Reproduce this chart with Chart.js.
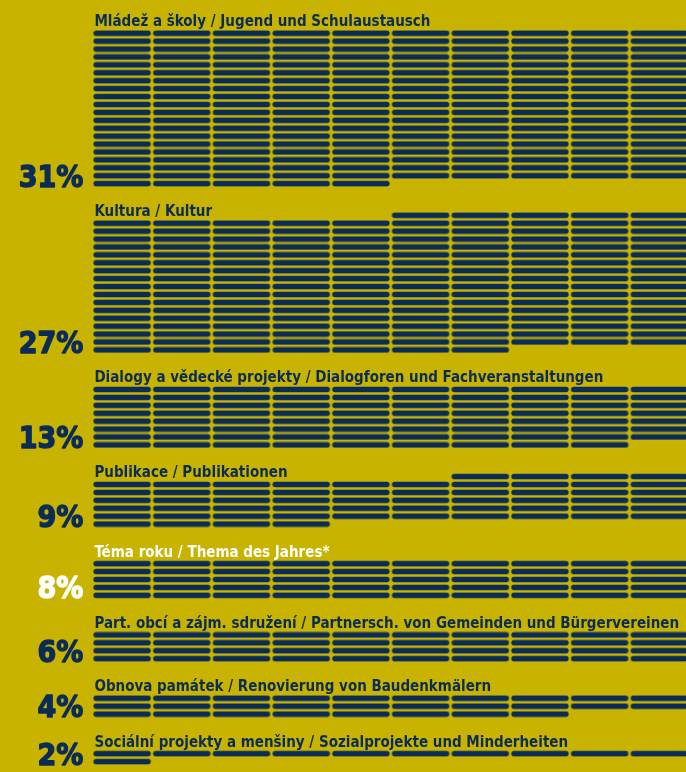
<!DOCTYPE html>
<html>
<head>
<meta charset="utf-8">
<title>Projekty podle oblastí / Projekte nach Bereichen</title>
<script src="https://cdn.jsdelivr.net/npm/chart.js@4.4.0/dist/chart.umd.min.js"></script>
<style>
  html, body { margin: 0; padding: 0; background: #c8b400; }
  #wrap { position: relative; width: 686px; height: 772px; overflow: hidden; }
</style>
</head>
<body>
<div id="wrap"><canvas id="units"></canvas></div>
<script>
// ================= DATA =================
const categories = [
    "Mládež a školy / Jugend und Schulaustausch",
    "Kultura / Kultur",
    "Dialogy a vědecké projekty / Dialogforen und Fachveranstaltungen",
    "Publikace / Publikationen",
    "Téma roku / Thema des Jahres*",
    "Part. obcí a zájm. sdružení / Partnersch. von Gemeinden und Bürgervereinen",
    "Obnova památek / Renovierung von Baudenkmälern",
    "Sociální projekty a menšiny / Sozialprojekte und Minderheiten"
];
const percents = [31, 27, 13, 9, 8, 6, 4, 2];
// one pill = one project
const counts = [195, 172, 79, 58, 50, 40, 28, 11];

// ================= LAYOUT / STYLE =================
const NAVY = "#0b2c57";
const WHITE = "#ffffff";
const highlightIndex = 4;               // "Téma roku" is printed in white
const PER_ROW = 10;
const startSlot = [0, 5, 0, 6, 0, 0, 0, 0]; // empty slots before the first pill of a block
const BLOCK_GAP = 5;                    // rows between last row of a block and next full row
const W = 686, H = 772;
const COL_PX = 60.4, FIRST_COL_X = 119.5;
const ROW_PX = 8, FIRST_ROW_Y = 29.5;
const PILL_W = 57.4, PILL_H = 5.6;

function makePill(w, h, color) {
    // canvas a bit larger than the pill so the edges stay soft
    const c = document.createElement("canvas");
    c.width = Math.ceil(w) + 2;
    c.height = Math.ceil(h) + 1;
    const p = c.getContext("2d");
    const r = h / 2;
    const ox = (c.width - w) / 2, oy = (c.height - h) / 2;
    p.fillStyle = color;
    p.beginPath();
    p.moveTo(ox + r, oy);
    p.lineTo(ox + w - r, oy);
    p.arc(ox + w - r, oy + r, r, -Math.PI / 2, Math.PI / 2);
    p.lineTo(ox + r, oy + h);
    p.arc(ox + r, oy + r, r, Math.PI / 2, Math.PI * 1.5);
    p.closePath();
    p.fill();
    return c;
}

// place every pill of each block in row-major order
const blocks = [];
let prevLast = -BLOCK_GAP;
categories.forEach((name, i) => {
    const first = prevLast + BLOCK_GAP;
    const row0 = startSlot[i] > 0 ? first - 1 : first;
    const pts = [];
    for (let k = 0; k < counts[i]; k++) {
        const s = startSlot[i] + k;
        pts.push({ x: (s % PER_ROW) + 1, y: row0 + Math.floor(s / PER_ROW) });
    }
    const last = pts[pts.length - 1].y;
    blocks.push({ first, last, pts });
    prevLast = last;
});

const pill = makePill(PILL_W, PILL_H, NAVY);

// ================= LABELS =================
const labelPlugin = {
    id: "blockLabels",
    afterDatasetsDraw(chart) {
        const { ctx, scales } = chart;
        const left = scales.x.getPixelForValue(1) - PILL_W / 2;
        blocks.forEach((b, i) => {
            const color = i === highlightIndex ? WHITE : NAVY;
            ctx.save();
            ctx.fillStyle = color;
            ctx.strokeStyle = color;
            ctx.textBaseline = "alphabetic";

            ctx.font = "bold 15px 'DejaVu Sans Condensed', 'DejaVu Sans'";
            ctx.textAlign = "left";
            ctx.fillText(categories[i], left + 1, scales.y.getPixelForValue(b.first) - 7);

            // heavy percent figure: bold face, stretched a little, thin outline
            const px = left - 10, py = scales.y.getPixelForValue(b.last) + 3;
            ctx.translate(px, py);
            ctx.scale(1, 1.1);
            ctx.font = "bold 27px 'DejaVu Sans'";
            ctx.textAlign = "right";
            ctx.lineWidth = 1.3;
            ctx.lineJoin = "round";
            ctx.fillText(percents[i] + "%", 0, 0);
            ctx.strokeText(percents[i] + "%", 0, 0);
            ctx.restore();
        });
    }
};

// ================= CHART =================
new Chart(document.getElementById("units"), {
    type: "scatter",
    data: {
        datasets: blocks.map((b, i) => ({
            label: categories[i],
            data: b.pts,
            pointStyle: pill,
            radius: 3,
            hoverRadius: 3,
            clip: false
        }))
    },
    options: {
        responsive: true,
        maintainAspectRatio: false,
        animation: false,
        devicePixelRatio: 1,
        layout: { padding: 0 },
        plugins: { legend: { display: false }, tooltip: { enabled: false } },
        events: [],
        scales: {
            x: {
                type: "linear",
                display: false,
                min: 1 - FIRST_COL_X / COL_PX,
                max: 1 + (W - FIRST_COL_X) / COL_PX
            },
            y: {
                type: "linear",
                display: false,
                reverse: true,
                min: -FIRST_ROW_Y / ROW_PX,
                max: (H - FIRST_ROW_Y) / ROW_PX
            }
        }
    },
    plugins: [labelPlugin]
});
</script>
</body>
</html>
